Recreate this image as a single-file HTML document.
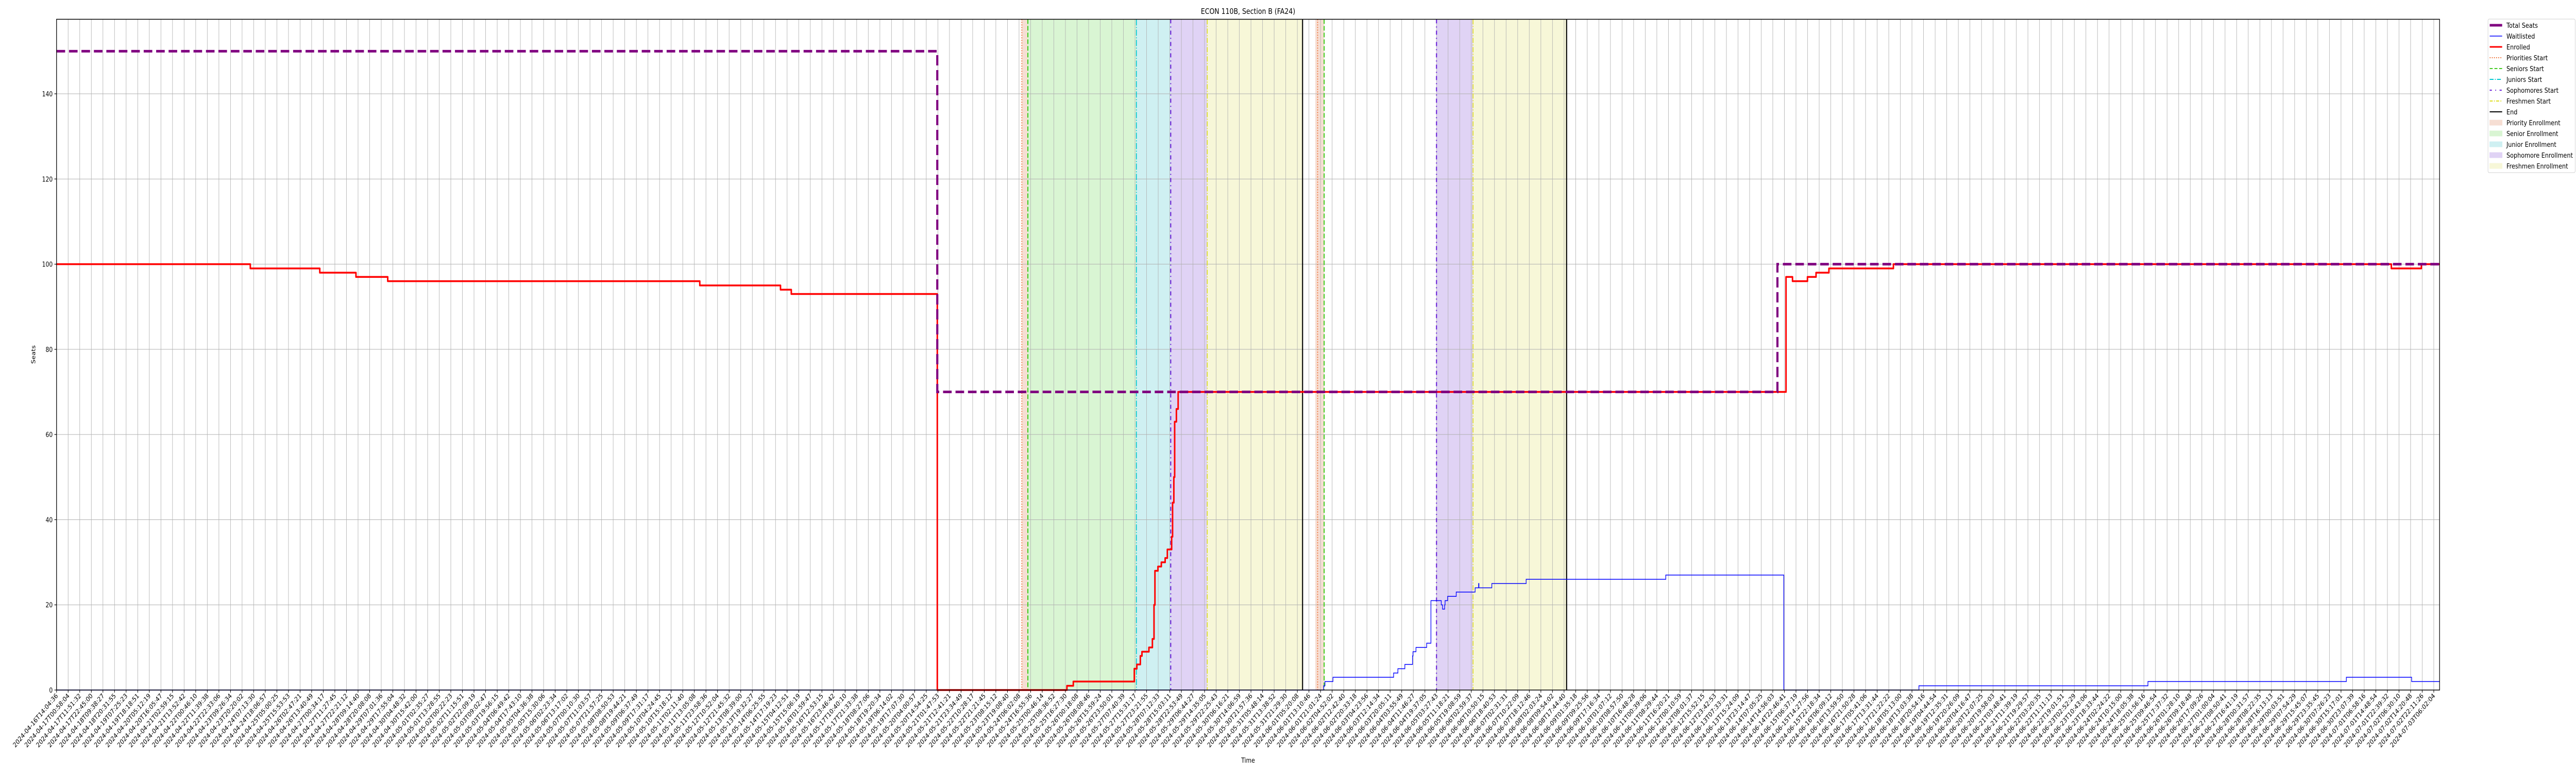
<!DOCTYPE html>
<html><head><meta charset="utf-8"><title>ECON 110B, Section B (FA24)</title>
<style>
html,body{margin:0;padding:0;background:#fff;overflow:hidden;width:100%;height:100%;}
svg{display:block;position:fixed;left:0;top:0;width:100vw;height:100vh;font-family:"DejaVu Sans","Liberation Sans",sans-serif;}
</style></head>
<body>
<svg id="chart" viewBox="0 0 6000 1500" preserveAspectRatio="none" xmlns="http://www.w3.org/2000/svg">
<rect x="0" y="0" width="6000" height="1500" fill="#fff"/>
<g id="spans"></g>
<g id="grid"></g>
<g id="vlines"></g>
<g id="series"></g>
<g id="axes"></g>
<text x="2907" y="27" font-size="15" text-anchor="middle" fill="#000">ECON 110B, Section B (FA24)</text>
<text x="2907" y="1480" font-size="13" text-anchor="middle" fill="#000">Time</text>
<text transform="translate(82,688) rotate(-90)" font-size="13" text-anchor="middle" fill="#000">Seats</text>
<g id="legend"></g>
</svg>
<script>
// ---- data (x in tick-index units, y in seats) ----
const totalT = [0, 75.95, 148.4, 205.5];
const totalV = [150, 70, 100, 100];
const enrolledT = [0,16.71,22.7,25.82,28.56,55.47,62.43,63.36,75.95,87.13,87.68,92.94,93.16,93.46,93.6,94.2,94.5,94.64,94.72,94.98,95.27,95.6,95.79,96.16,96.24,96.35,96.42,96.57,96.72,149.14,149.7,150.99,151.73,152.84,158.4,201.34,203.93,205.5];
const enrolledV = [100,99,98,97,96,95,94,93,0,1,2,5,6,8,9,10,12,20,28,29,30,31,33,36,44,50,63,66,70,97,96,97,98,99,100,99,100,100];
const waitT = [0,109.27,109.38,110.07,115.3,115.67,116.27,116.93,116.97,117.23,118.15,118.52,119.41,119.52,119.7,119.74,119.96,120.7,122.33,122.63,122.66,123.77,126.73,138.77,148.95,160.6,180.35,197.46,203.09,205.5];
const waitV = [0,1,2,3,4,5,6,8,9,10,11,21,20,19,20,21,22,23,24,25,24,25,26,27,0,1,2,3,2,2];
const prioritiesStart = [83.24, 108.75];
const seniorsStart = [83.76, 109.31];
const juniorsStart = [93.12];
const sophomoresStart = [96.08, 119.0];
const freshmenStart = [99.23, 122.15];
const endTimes = [107.45, 130.22];
const prioritySpans = [[83.24,83.76],[108.55,109.31]];
const seniorSpans = [[83.76,93.12]];
const juniorSpans = [[93.12,96.08]];
const sophomoreSpans = [[96.08,99.23],[119.0,122.15]];
const freshmenSpans = [[99.23,107.45],[122.15,130.22]];
const yTicks = [0,20,40,60,80,100,120,140];
const tickAnchorIdx = [0, 84, 205];
const tickAnchorTime = ["2024-04-16T14:04:36","2024-05-24T16:55:36","2024-07-03T06:02:04"];
const tickCount = 206;

// ---- scales ----
const X0=131.7, XS=27.01, Y0=1339, YS=8.264, XMAX=205.5, YMAX=157.5;
const X = t => X0 + t*XS;
const Y = v => Y0 - v*YS;
const NS="http://www.w3.org/2000/svg";
function mk(tag, attrs, parent){const e=document.createElementNS(NS,tag);for(const k in attrs)e.setAttribute(k,attrs[k]);parent.appendChild(e);return e;}
const plotTop=Y(YMAX), plotBottom=Y0, plotRight=X(XMAX);

// spans
const spansG=document.getElementById('spans');
function drawSpans(arr,color,name){arr.forEach(s=>{const r=mk('rect',{x:X(s[0]),y:plotTop,width:X(s[1])-X(s[0]),height:plotBottom-plotTop,fill:color},spansG);

});}
drawSpans(prioritySpans,'#f6ded3','priority-enrollment-span');
drawSpans(seniorSpans,'#d9f5d3','senior-enrollment-span');
drawSpans(juniorSpans,'#cff0f2','junior-enrollment-span');
drawSpans(sophomoreSpans,'#e0d3f5','sophomore-enrollment-span');
drawSpans(freshmenSpans,'#f7f7d8','freshmen-enrollment-span');

// grid
const gridG=document.getElementById('grid');
for(let i=0;i<tickCount;i++){const l=mk('line',{x1:X(i),x2:X(i),y1:plotTop,y2:plotBottom,stroke:'#b0b0b0','stroke-width':1},gridG);

}
yTicks.forEach(v=>{const l=mk('line',{x1:X0,x2:plotRight,y1:Y(v),y2:Y(v),stroke:'#b0b0b0','stroke-width':1},gridG);

});

// vertical lines
const vG=document.getElementById('vlines');
function vl(arr,color,dash,w,name){arr.forEach(t=>{const l=mk('line',{x1:X(t),x2:X(t),y1:plotTop,y2:plotBottom,stroke:color,'stroke-width':w},vG);if(dash)l.setAttribute('stroke-dasharray',dash);

});}
vl(prioritiesStart,'#ee6a2c','2 3',2,'priorities-start-line');
vl(seniorsStart,'#44cc22','9 4',2.5,'seniors-start-line');
vl(juniorsStart,'#00c8d0','12 3 2 3',2,'juniors-start-line');
vl(sophomoresStart,'#6a22d8','8 6 2 6',2.5,'sophomores-start-line');
vl(freshmenStart,'#dede22','10 3 2 3',2,'freshmen-start-line');
vl(endTimes,'#000',null,2.5,'end-line');

// series
const sG=document.getElementById('series');
function stepPath(T,V){let d='M'+X(T[0])+' '+Y(V[0]);for(let i=1;i<T.length;i++){d+=' L'+X(T[i])+' '+Y(V[i-1])+' L'+X(T[i])+' '+Y(V[i]);}return d;}
const wl=mk('path',{d:stepPath(waitT,waitV),fill:'none',stroke:'#0000ff','stroke-width':1.5},sG);


const en=mk('path',{d:stepPath(enrolledT,enrolledV),fill:'none',stroke:'#ff0000','stroke-width':3.5,'stroke-linejoin':'round'},sG);


const ts=mk('path',{d:stepPath(totalT,totalV),fill:'none',stroke:'#800080','stroke-width':5,'stroke-dasharray':'20 9'},sG);



// axes
const aG=document.getElementById('axes');
const frame=mk('rect',{x:X0,y:plotTop,width:plotRight-X0,height:plotBottom-plotTop,fill:'none',stroke:'#000','stroke-width':1.5},aG);


yTicks.forEach(v=>{const tk=mk('line',{x1:X0-5,x2:X0,y1:Y(v),y2:Y(v),stroke:'#000','stroke-width':1.2},aG);


const tx=mk('text',{x:X0-9,y:Y(v)+5,'font-size':13,'text-anchor':'end',fill:'#000'},aG);tx.textContent=String(v);

});
const anchorsMs=tickAnchorTime.map(s=>Date.parse(s+'Z'));
function labelFor(i){let k=0;while(k<tickAnchorIdx.length-2&&i>tickAnchorIdx[k+1])k++;
const a=tickAnchorIdx[k],b=tickAnchorIdx[k+1];let ms=anchorsMs[k]+(anchorsMs[k+1]-anchorsMs[k])*(i-a)/(b-a);
ms=Math.round(ms/1000)*1000;return new Date(ms).toISOString().slice(0,19);}
for(let i=0;i<tickCount;i++){const x=X(i);
const tk=mk('line',{x1:x,x2:x,y1:plotBottom,y2:plotBottom+5,stroke:'#000','stroke-width':1.2},aG);


const tx=mk('text',{transform:'translate('+(x+4)+','+(plotBottom+12)+') rotate(-45)','font-size':13,'text-anchor':'end',fill:'#000'},aG);
tx.textContent=labelFor(i);

}

// legend
const lg=document.getElementById('legend');
mk('rect',{x:5795,y:37,width:203,height:298,fill:'#fff',stroke:'#d0d0d0','stroke-width':1,rx:3},lg);
const legendItems=[
['Total Seats','line','#800080',5,null],
['Waitlisted','line','#0000ff',1.5,null],
['Enrolled','line','#ff0000',3,null],
['Priorities Start','line','#ee6a2c',2,'2 3'],
['Seniors Start','line','#44cc22',2,'7 4'],
['Juniors Start','line','#00c8d0',2,'9 3 2 3'],
['Sophomores Start','line','#6a22d8',2,'5 8 2 8'],
['Freshmen Start','line','#dede22',2,'7 3 2 3'],
['End','line','#000',2,null],
['Priority Enrollment','patch','#f6ded3'],
['Senior Enrollment','patch','#d9f5d3'],
['Junior Enrollment','patch','#cff0f2'],
['Sophomore Enrollment','patch','#e0d3f5'],
['Freshmen Enrollment','patch','#f7f7d8']];
legendItems.forEach((it,i)=>{const y=49+i*21;const g=mk('g',{},lg);


if(it[1]==='line'){const l=mk('line',{x1:5799,x2:5828,y1:y,y2:y,stroke:it[2],'stroke-width':it[3]},g);if(it[4])l.setAttribute('stroke-dasharray',it[4]);}
else{mk('rect',{x:5799,y:y-5,width:29,height:10,fill:it[2],stroke:it[2]},g);}
const t=mk('text',{x:5838,y:y+5,'font-size':13.5,fill:'#000'},g);t.textContent=it[0];});
</script>
</body></html>
